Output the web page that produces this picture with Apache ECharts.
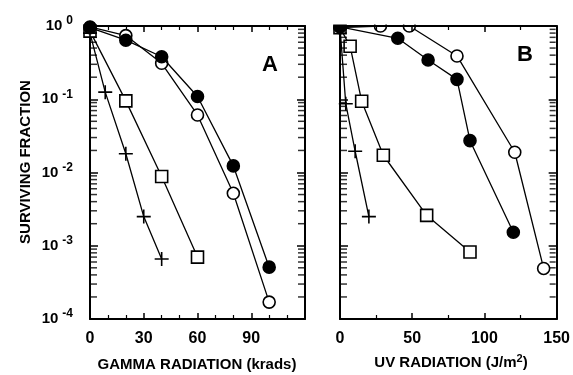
<!DOCTYPE html>
<html>
<head>
<meta charset="utf-8">
<script src="https://cdn.jsdelivr.net/npm/echarts@6/dist/echarts.min.js"></script>
<style>
html,body{margin:0;padding:0;background:#fff;}
#chart{width:573px;height:375px;}
</style>
</head>
<body>
<div id="chart"></div>
<script>
// ---------- Data ----------
// Panel A: gamma radiation (krads)
const gammaOpenX   = [0, 20, 40, 60, 80, 100];
const gammaOpenY   = [0.97, 0.74, 0.31, 0.061, 0.0052, 0.00017];
const gammaFilledX = [0, 20, 40, 60, 80, 100];
const gammaFilledY = [0.95, 0.64, 0.38, 0.109, 0.0123, 0.00051];
const gammaSquareX = [0, 20, 40, 60];
const gammaSquareY = [0.85, 0.095, 0.0088, 0.0007];
const gammaCrossX  = [0, 8.5, 20, 30, 40];
const gammaCrossY  = [0.8, 0.125, 0.018, 0.0025, 0.00066];
// Panel B: UV radiation (J/m2)
const uvOpenX   = [0, 28, 48, 81, 121, 141];
const uvOpenY   = [0.95, 1.0, 1.0, 0.39, 0.0189, 0.00049];
const uvFilledX = [0, 40, 61, 81, 90, 120];
const uvFilledY = [0.97, 0.68, 0.344, 0.187, 0.0272, 0.00153];
const uvSquareX = [0, 7, 15, 30, 60, 90];
const uvSquareY = [0.95, 0.53, 0.094, 0.0172, 0.0026, 0.00082];
const uvCrossX  = [0, 4, 10.5, 20];
const uvCrossY  = [0.95, 0.087, 0.0195, 0.0025];

const gammaXTickLabels = [0, 30, 60, 90];
const uvXTickLabels = [0, 50, 100, 150];
const yDecades = [1e-4, 1e-3, 1e-2, 1e-1, 1];
const minorMultipliers = [2, 3, 4, 5, 6, 7, 8, 9];

// ---------- Helpers ----------
const FONT = 'Liberation Sans, Arial, sans-serif';
const pair = (xs, ys) => xs.map((x, i) => [x, ys[i]]);
const minorVals = [];
yDecades.slice(0, -1).forEach(d => minorMultipliers.forEach(m => minorVals.push(m * d)));

const plusPath = 'path://M0,7L14,7M7,0L7,14';

function lineSeries(name, data, gi, symbol, filled, size) {
  return {
    type: 'line', name, data, xAxisIndex: gi * 2, yAxisIndex: gi * 2,
    symbol, symbolSize: size, showSymbol: true, clip: false,
    lineStyle: { color: '#000', width: 1.3 },
    itemStyle: { color: filled ? '#000' : '#fff', borderColor: '#000', borderWidth: 1.6 },
    z: filled ? 4 : 3,
    animation: false
  };
}

// log-scale minor ticks (2..9 x 10^k) on both frame sides, placed through the axis scales
function minorTickSeries(gi, xMax) {
  const items = [];
  minorVals.forEach(v => {
    items.push({ value: [0, v], symbolOffset: [4, 0] });
    items.push({ value: [xMax, v], symbolOffset: [-4, 0] });
  });
  return {
    type: 'scatter', xAxisIndex: gi * 2, yAxisIndex: gi * 2, silent: true, clip: false,
    data: items,
    symbol: 'rect', symbolSize: [6, 1.5],
    itemStyle: { color: '#000' }, z: 20, animation: false
  };
}

const supMap = v => String(Math.round(Math.log10(v)));

function yAxes(gi, showLabels) {
  const common = {
    type: 'log', logBase: 10, min: 1e-4, max: 1, splitNumber: 4, gridIndex: gi,
    axisLine: { show: true, onZero: false, lineStyle: { color: '#000', width: 2 } },
    axisTick: { show: true, inside: true, length: 8, lineStyle: { color: '#000', width: 1.5 } },
    splitLine: { show: false }
  };
  return [
    Object.assign({}, common, {
      position: 'left',
      axisLabel: showLabels ? {
        show: true, margin: 17,
        formatter: v => '{b|10}{s|' + supMap(v) + '}',
        rich: {
          b: { fontFamily: FONT, fontWeight: 'bold', fontSize: 15, color: '#000' },
          s: { fontFamily: FONT, fontWeight: 'bold', fontSize: 12, color: '#000', padding: [0, 0, 10, 4] }
        }
      } : { show: false }
    }),
    Object.assign({}, common, { position: 'right', axisLabel: { show: false } })
  ];
}

function xAxes(gi, max, interval, labels) {
  const common = {
    type: 'value', min: 0, max, interval, gridIndex: gi,
    axisLine: { show: true, onZero: false, lineStyle: { color: '#000', width: 2 } },
    axisTick: { show: true, inside: true, length: 6, lineStyle: { color: '#000', width: 1.5 } },
    minorTick: { show: true, splitNumber: interval === 30 ? 3 : 2, length: 4, lineStyle: { color: '#000', width: 1.2 } },
    splitLine: { show: false }, minorSplitLine: { show: false }
  };
  return [
    Object.assign({}, common, {
      position: 'bottom',
      axisLabel: {
        show: true, margin: 12, fontFamily: FONT, fontWeight: 'bold', fontSize: 16, color: '#000',
        showMaxLabel: true,
        formatter: v => labels.indexOf(v) >= 0 ? String(v) : ''
      }
    }),
    Object.assign({}, common, { position: 'top', z: 10, axisLabel: { show: false } })
  ];
}

const option = {
  backgroundColor: '#fff',
  animation: false,
  grid: [
    { left: 90, top: 26, width: 215, height: 293 },
    { left: 340, top: 26, width: 217, height: 293 }
  ],
  xAxis: [...xAxes(0, 120, 30, gammaXTickLabels), ...xAxes(1, 150, 50, uvXTickLabels)],
  yAxis: [...yAxes(0, true), ...yAxes(1, false)],
  series: [
    lineSeries('A open', pair(gammaOpenX, gammaOpenY), 0, 'circle', false, 12),
    lineSeries('A filled', pair(gammaFilledX, gammaFilledY), 0, 'circle', true, 12),
    lineSeries('A square', pair(gammaSquareX, gammaSquareY), 0, 'rect', false, 12),
    lineSeries('A cross', pair(gammaCrossX, gammaCrossY), 0, plusPath, false, 14),
    lineSeries('B open', pair(uvOpenX, uvOpenY), 1, 'circle', false, 12),
    lineSeries('B filled', pair(uvFilledX, uvFilledY), 1, 'circle', true, 12),
    lineSeries('B square', pair(uvSquareX, uvSquareY), 1, 'rect', false, 12),
    lineSeries('B cross', pair(uvCrossX, uvCrossY), 1, plusPath, false, 14),
    minorTickSeries(0, 120),
    minorTickSeries(1, 150)
  ],
  graphic: [
    // white band above the plot frames (markers sitting on the top edge appear clipped, as in the reference)
    { type: 'rect', z: 50, shape: { x: 330, y: 0, width: 243, height: 24.5 }, style: { fill: '#fff' } },
    { type: 'text', left: 262, top: 54, style: { text: 'A', fontFamily: FONT, fontWeight: 'bold', fontSize: 22, fill: '#000' } },
    { type: 'text', left: 517, top: 44, style: { text: 'B', fontFamily: FONT, fontWeight: 'bold', fontSize: 22, fill: '#000' } },
    { type: 'text', x: 26, y: 162, rotation: Math.PI / 2,
      style: { text: 'SURVIVING FRACTION', fontFamily: FONT, fontWeight: 'bold', fontSize: 15, fill: '#000', align: 'center', verticalAlign: 'middle' } },
    { type: 'text', x: 197, y: 365,
      style: { text: 'GAMMA RADIATION (krads)', fontFamily: FONT, fontWeight: 'bold', fontSize: 15, fill: '#000', align: 'center', verticalAlign: 'middle' } },
    { type: 'text', x: 451, y: 363,
      style: { text: 'UV RADIATION (J/m{s|2})', fontFamily: FONT, fontWeight: 'bold', fontSize: 15, fill: '#000', align: 'center', verticalAlign: 'middle',
        rich: { s: { fontFamily: FONT, fontWeight: 'bold', fontSize: 11, fill: '#000', padding: [0, 0, 8, 0] } } } }
  ]
};

const chart = echarts.init(document.getElementById('chart'), null, { renderer: 'canvas' });
chart.setOption(option);
</script>
</body>
</html>
